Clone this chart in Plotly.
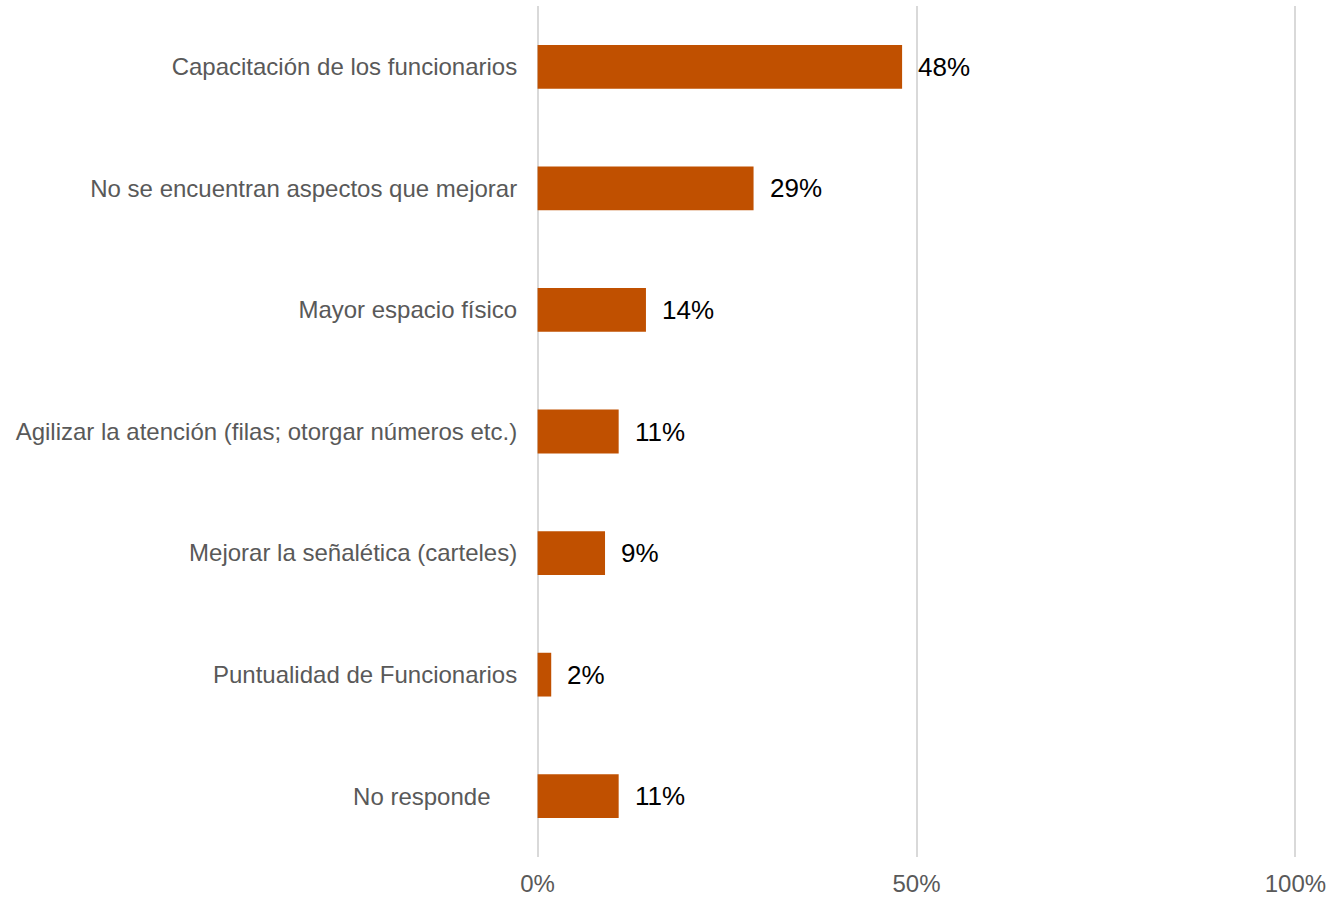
import plotly.graph_objects as go

categories = [
    "Capacitación de los funcionarios",
    "No se encuentran aspectos que mejorar",
    "Mayor espacio físico",
    "Agilizar la atención (filas; otorgar números etc.)",
    "Mejorar la señalética (carteles)",
    "Puntualidad de Funcionarios",
    "No responde\u00a0\u00a0\u00a0\u00a0",
]
values = [48.1, 28.5, 14.3, 10.7, 8.9, 1.8, 10.7]
labels = ["48%", "29%", "14%", "11%", "9%", "2%", "11%"]
x_ticks = [0, 50, 100]
x_ticklabels = ["0%", "50%", "100%"]

BAR_COLOR = "#C05000"
FONT = "Arial, Liberation Sans, sans-serif"

fig = go.Figure()
fig.add_trace(go.Bar(
    y=categories,
    x=values,
    orientation="h",
    marker=dict(color=BAR_COLOR, line=dict(width=0)),
    width=0.36,
    hoverinfo="skip",
))

for c, v, t in zip(categories, values, labels):
    fig.add_annotation(
        x=v, y=c, text=t, showarrow=False, xanchor="left", xshift=14,
        font=dict(family=FONT, size=26, color="#000000"),
    )

fig.update_layout(
    width=1328, height=898,
    margin=dict(l=530, r=25, t=6, b=41, autoexpand=False),
    paper_bgcolor="white", plot_bgcolor="white",
    showlegend=False,
    font=dict(family=FONT, size=24, color="#595959"),
    xaxis=dict(
        range=[-1, 101], tickvals=x_ticks, ticktext=x_ticklabels,
        showgrid=True, gridcolor="#D9D9D9", gridwidth=2,
        zeroline=False, showline=False,
        ticks="outside", ticklen=5, tickcolor="rgba(0,0,0,0)",
        tickfont=dict(size=24, color="#595959"),
        automargin=False, fixedrange=True,
    ),
    yaxis=dict(
        autorange="reversed", showgrid=False, zeroline=False, showline=False,
        ticks="outside", ticklen=7, tickcolor="rgba(0,0,0,0)",
        tickfont=dict(size=24, color="#595959"),
        automargin=False, fixedrange=True,
    ),
)

fig.write_html(
    "out.html",
    config={"displayModeBar": False},
    post_script="document.body.style.margin='0';document.body.style.overflow='hidden';",
)
